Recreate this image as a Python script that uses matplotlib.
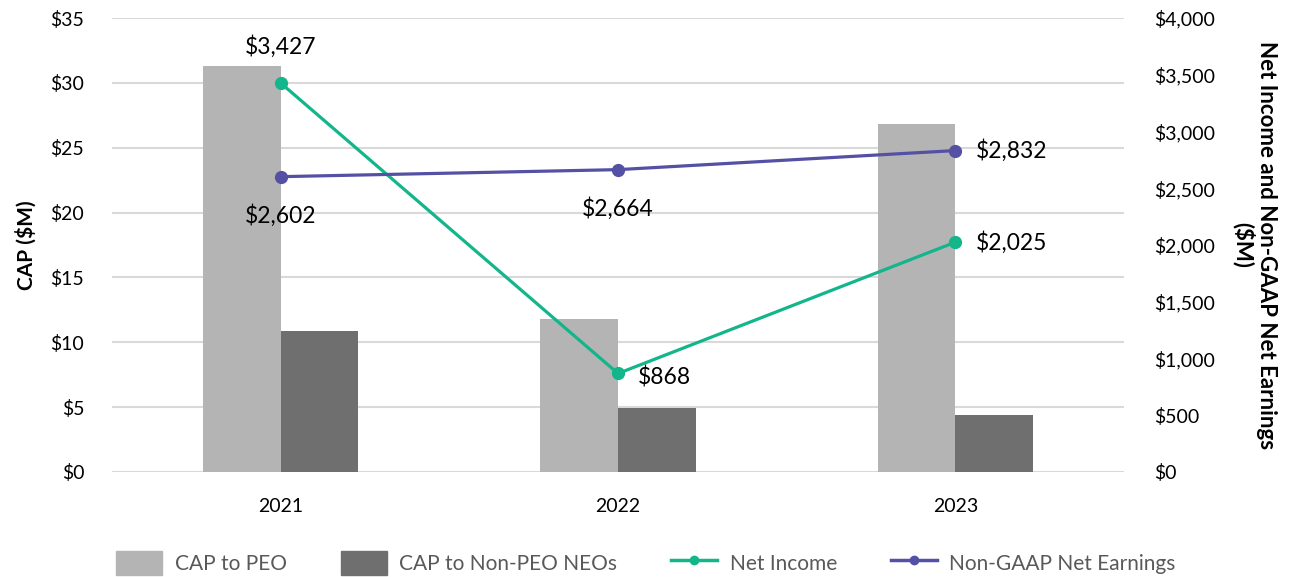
import matplotlib
matplotlib.use("Agg")
import matplotlib.pyplot as plt
import numpy as np
from matplotlib.patches import Patch
from matplotlib.lines import Line2D

plt.rcParams['font.family'] = ['Lato', 'DejaVu Sans']

years = ["2021", "2022", "2023"]
cap_peo = [31.3, 11.8, 26.8]
cap_non_peo = [10.9, 4.9, 4.4]
net_income = [3427, 868, 2025]
non_gaap = [2602, 2664, 2832]

left_ticks = [0, 5, 10, 15, 20, 25, 30, 35]
right_ticks = [0, 500, 1000, 1500, 2000, 2500, 3000, 3500, 4000]

c_peo = "#b4b4b4"
c_non_peo = "#6f6f6f"
c_ni = "#13b58a"
c_ng = "#5450a4"

fig = plt.figure(figsize=(12.92, 5.77), dpi=100)
ax = fig.add_axes([0.0867, 0.182, 0.7833, 0.7868])
ax2 = ax.twinx()

x = np.arange(len(years)) + 0.5
w = 0.23
ax.bar(x - w / 2, cap_peo, width=w, color=c_peo, zorder=2)
ax.bar(x + w / 2, cap_non_peo, width=w, color=c_non_peo, zorder=2)

ax.set_xlim(0, 3)
ax.set_ylim(0, 35)
ax.set_yticks(left_ticks)
ax.set_yticklabels([f"${v}" for v in left_ticks])
ax.set_xticks(x)
ax.set_xticklabels(years)
ax.grid(axis='y', color='#d9d9d9', linewidth=1.5, zorder=0)
ax.set_axisbelow(True)
for s in ax.spines.values():
    s.set_visible(False)
for s in ax2.spines.values():
    s.set_visible(False)
ax.tick_params(axis='y', length=0, labelsize=14, pad=20)
ax.tick_params(axis='x', length=0, labelsize=14, pad=19)
ax.set_ylabel("CAP ($M)", fontsize=15, fontweight='bold', labelpad=10)

ax2.plot(x, net_income, color=c_ni, lw=2.3, marker='o', ms=8.5, zorder=3)
ax2.plot(x, non_gaap, color=c_ng, lw=2.3, marker='o', ms=8.5, zorder=3)
ax2.set_ylim(0, 4000)
ax2.set_yticks(right_ticks)
ax2.set_yticklabels([f"${v:,}" for v in right_ticks])
ax2.tick_params(axis='y', length=0, labelsize=14, pad=22)
ax2.set_ylabel("Net Income and Non-GAAP Net Earnings\n($M)", fontsize=16,
               fontweight='bold', rotation=270, labelpad=44, linespacing=1.05)

lab_kw = dict(fontsize=16.5, color='black')
fmt = lambda v: f"${v:,}"
# Net Income labels
ax2.annotate(fmt(net_income[0]), (x[0], net_income[0]), xytext=(0, 26),
             textcoords='offset points', ha='center', va='center', **lab_kw)
ax2.annotate(fmt(net_income[1]), (x[1], net_income[1]), xytext=(14, -3),
             textcoords='offset points', ha='left', va='center', **lab_kw)
ax2.annotate(fmt(net_income[2]), (x[2], net_income[2]), xytext=(15, 0),
             textcoords='offset points', ha='left', va='center', **lab_kw)
# Non-GAAP labels
ax2.annotate(fmt(non_gaap[0]), (x[0], non_gaap[0]), xytext=(0, -28),
             textcoords='offset points', ha='center', va='center', **lab_kw)
ax2.annotate(fmt(non_gaap[1]), (x[1], non_gaap[1]), xytext=(0, -28),
             textcoords='offset points', ha='center', va='center', **lab_kw)
ax2.annotate(fmt(non_gaap[2]), (x[2], non_gaap[2]), xytext=(15, 0),
             textcoords='offset points', ha='left', va='center', **lab_kw)

handles = [
    Patch(color=c_peo, label="CAP to PEO"),
    Patch(color=c_non_peo, label="CAP to Non-PEO NEOs"),
    Line2D([], [], color=c_ni, lw=2.5, marker='o', ms=6, label="Net Income"),
    Line2D([], [], color=c_ng, lw=2.5, marker='o', ms=6, label="Non-GAAP Net Earnings"),
]
leg = fig.legend(handles=handles, loc='center', bbox_to_anchor=(0.50, 0.025),
                 ncol=4, frameon=False, fontsize=15, handlelength=2.2,
                 handleheight=1.4, columnspacing=2.6, handletextpad=0.6)
for t in leg.get_texts():
    t.set_color('#595959')

fig.savefig("out.png", dpi=100)
